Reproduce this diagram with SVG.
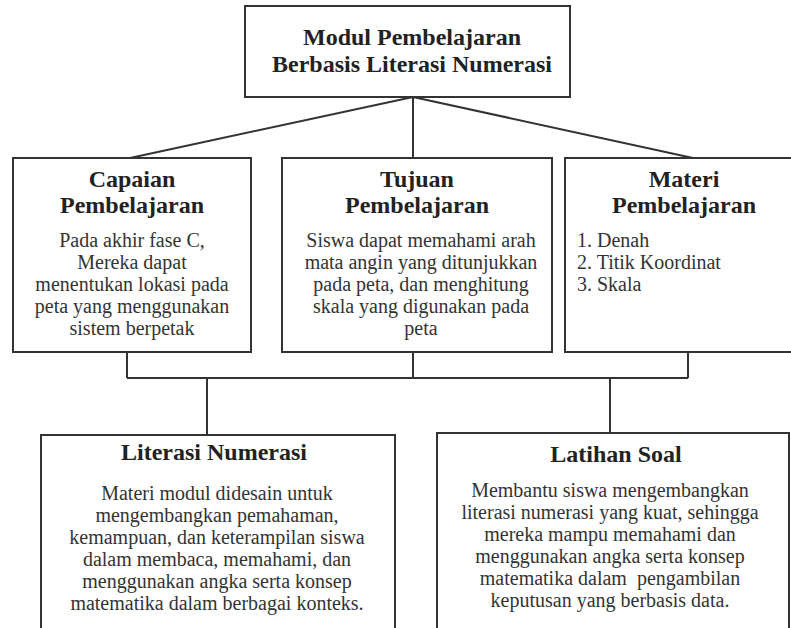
<svg xmlns="http://www.w3.org/2000/svg" width="791" height="628" viewBox="0 0 791 628">
<style>
.box{fill:#ffffff;stroke:#333333;stroke-width:2}
.conn{fill:none;stroke:#333333;stroke-width:2}
.title{font-family:"Liberation Serif","Times New Roman",serif;font-weight:bold;font-size:24px;fill:#222222;text-anchor:middle}
.body{font-family:"Liberation Serif","Times New Roman",serif;font-size:20px;fill:#333333;text-anchor:middle}
.list{font-family:"Liberation Serif","Times New Roman",serif;font-size:20px;fill:#333333}
</style>
<rect width="791" height="628" fill="#ffffff"/>
<g id="connectors">
<path class="conn" d="M413 97 L130 158 M413 97 L413 158 M413 97 L693 158"/>
<path class="conn" d="M127 352 V378 M413 352 V378 M688 352 V378 M127 378 H688 M207 378 V435 M610 378 V433"/>
</g>
<g id="node-modul">
<rect class="box" x="245" y="6" width="325" height="91"/>
<text class="title" x="412" y="45">Modul Pembelajaran</text>
<text class="title" x="412" y="72">Berbasis Literasi Numerasi</text>
</g>
<g id="node-capaian">
<rect class="box" x="13" y="158" width="238" height="194"/>
<text class="title" x="132" y="187">Capaian</text>
<text class="title" x="132" y="213">Pembelajaran</text>
<text class="body" x="132" y="247">Pada akhir fase C,</text>
<text class="body" x="132" y="269">Mereka dapat</text>
<text class="body" x="132" y="291">menentukan lokasi pada</text>
<text class="body" x="132" y="313">peta yang menggunakan</text>
<text class="body" x="132" y="335">sistem berpetak</text>
</g>
<g id="node-tujuan">
<rect class="box" x="282" y="158" width="270" height="194"/>
<text class="title" x="417" y="187">Tujuan</text>
<text class="title" x="417" y="213">Pembelajaran</text>
<text class="body" x="421" y="247">Siswa dapat memahami arah</text>
<text class="body" x="421" y="269">mata angin yang ditunjukkan</text>
<text class="body" x="421" y="291">pada peta, dan menghitung</text>
<text class="body" x="421" y="313">skala yang digunakan pada</text>
<text class="body" x="421" y="335">peta</text>
</g>
<g id="node-materi">
<rect class="box" x="565" y="158" width="240" height="194"/>
<text class="title" x="684" y="187">Materi</text>
<text class="title" x="684" y="213">Pembelajaran</text>
<text class="list" x="577" y="247">1. Denah</text>
<text class="list" x="577" y="269">2. Titik Koordinat</text>
<text class="list" x="577" y="291">3. Skala</text>
</g>
<g id="node-literasi">
<rect class="box" x="41" y="435" width="354" height="200"/>
<text class="title" x="214" y="460">Literasi Numerasi</text>
<text class="body" x="217" y="500">Materi modul didesain untuk</text>
<text class="body" x="217" y="522">mengembangkan pemahaman,</text>
<text class="body" x="217" y="544">kemampuan, dan keterampilan siswa</text>
<text class="body" x="217" y="566">dalam membaca, memahami, dan</text>
<text class="body" x="217" y="588">menggunakan angka serta konsep</text>
<text class="body" x="217" y="610">matematika dalam berbagai konteks.</text>
</g>
<g id="node-latihan">
<rect class="box" x="437" y="433" width="352" height="202"/>
<text class="title" x="616" y="462">Latihan Soal</text>
<text class="body" x="610" y="497">Membantu siswa mengembangkan</text>
<text class="body" x="610" y="519">literasi numerasi yang kuat, sehingga</text>
<text class="body" x="610" y="541">mereka mampu memahami dan</text>
<text class="body" x="610" y="563">menggunakan angka serta konsep</text>
<text class="body" x="610" y="585" xml:space="preserve">matematika dalam  pengambilan</text>
<text class="body" x="610" y="607">keputusan yang berbasis data.</text>
</g>
</svg>
